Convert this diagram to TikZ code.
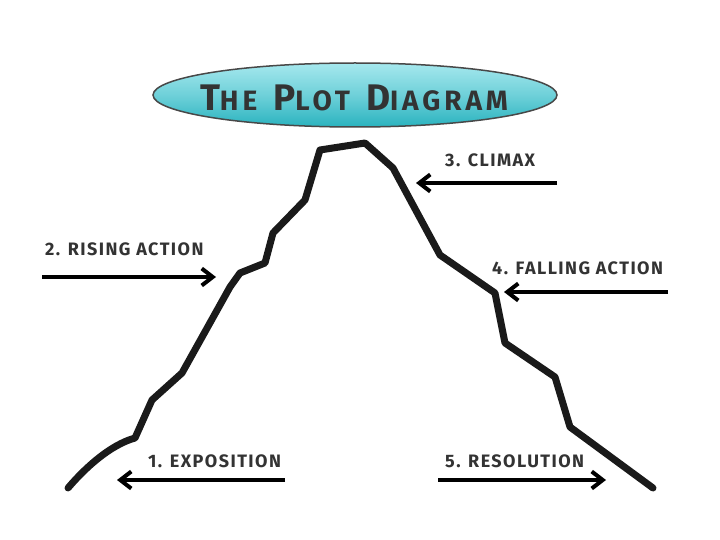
\documentclass[tikz,border=0pt]{standalone}
\usepackage{fontspec}
\setmainfont{Fira Sans}
\newfontfamily\hand[LetterSpace=8]{Fira Sans}
\newfontfamily\titlefont[LetterSpace=14]{Fira Sans}
\usetikzlibrary{arrows.meta,shadings,shapes.geometric}
\definecolor{ink}{HTML}{1A1A1A}
\definecolor{txt}{HTML}{333333}
\definecolor{tealtop}{HTML}{A6E8EE}
\definecolor{tealbot}{HTML}{2AB3BF}
\tikzset{
  mountain/.style={draw=ink, line width=7pt, line join=round, line cap=round},
  pointer/.style={draw=black, line width=4.5pt, -{Straight Barb[length=11pt,width=17pt,line width=4pt]}},
  lbl/.style={text=txt, font=\hand\bfseries\fontsize{18}{18}\selectfont, inner sep=0pt, anchor=west},
}
\newcommand{\bigsc}[2]{{\fontsize{37}{37}\selectfont #1}{\fontsize{28}{28}\selectfont #2}}
\begin{document}
\begin{tikzpicture}[x=1pt,y=-1pt]
\useasboundingbox (0,0) rectangle (720,540);
\fill[white] (0,0) rectangle (720,540);
% title
\node[ellipse, minimum width=404pt, minimum height=64pt, draw=ink!80, line width=1.5pt, top color=tealtop, bottom color=tealbot, middle color=tealtop!55!tealbot, inner sep=0pt] (ell) at (355,95) {};
\node[text=txt, font=\titlefont\bfseries, inner sep=0pt] (title) at (354,98) {\bigsc{T}{HE}\hspace{16pt}\bigsc{P}{LOT}\hspace{16pt}\bigsc{D}{IAGRAM}};
% mountain
\draw[mountain] (68,488) coordinate (m0) .. controls (85,468) and (110,445) .. (135,438) -- (152,400) -- (182,373) -- (230,287) -- (240,273) -- (265,263) -- (273,233) -- (305,200) -- (320,150) -- (365,143) -- (393,168) -- (440,255) -- (495,293) -- (505,343) -- (555,377) -- (570,427) -- (653,488);
% coordinates for arrows
\coordinate (r0) at (42,277); \coordinate (r1) at (216,277);
\coordinate (c0) at (557,183); \coordinate (c1) at (416,183);
\coordinate (f0) at (668,292); \coordinate (f1) at (504,292);
\coordinate (e0) at (285,480); \coordinate (e1) at (117,480);
\coordinate (s0) at (438,480); \coordinate (s1) at (606,480);
\draw[pointer] (r0) -- (r1);
\draw[pointer] (c0) -- (c1);
\draw[pointer] (f0) -- (f1);
\draw[pointer] (e0) -- (e1);
\draw[pointer] (s0) -- (s1);
% labels
\node[lbl] (lr) at (45,249) {2. RISING ACTION};
\node[lbl] (lc) at (445,160) {3. CLIMAX};
\node[lbl] (lf) at (492,268) {4. FALLING ACTION};
\node[lbl] (le) at (148,461) {1. EXPOSITION};
\node[lbl] (ls) at (445,461) {5. RESOLUTION};
\end{tikzpicture}
\end{document}
